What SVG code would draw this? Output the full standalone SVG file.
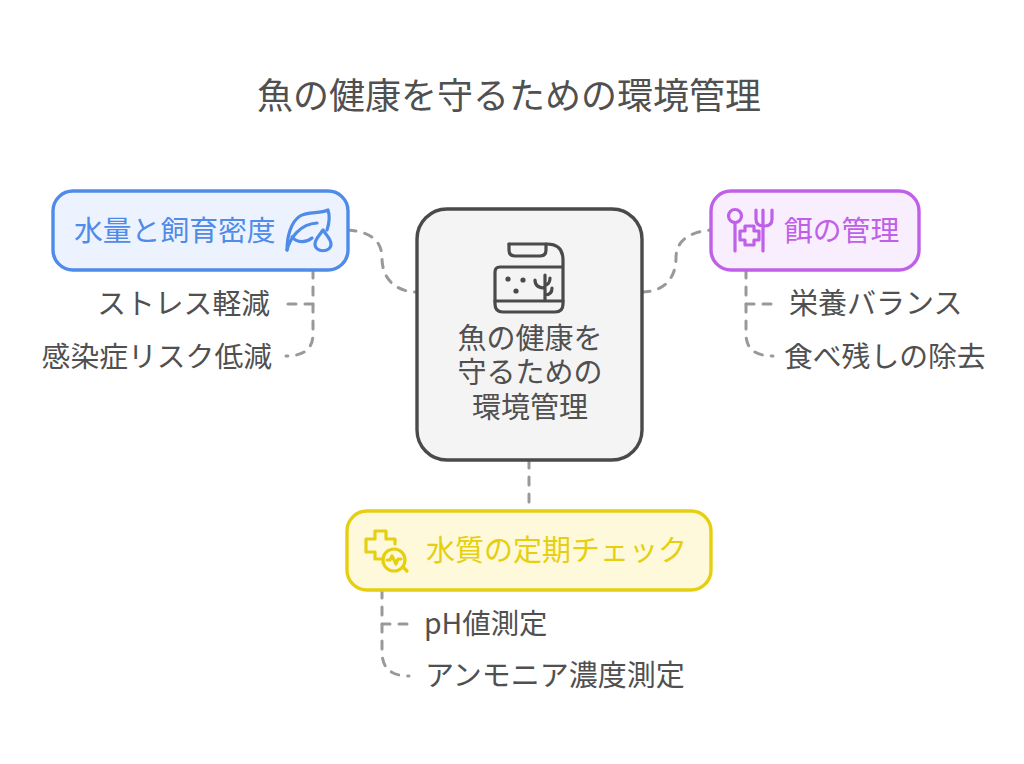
<svg xmlns="http://www.w3.org/2000/svg" width="1024" height="764" viewBox="0 0 1024 764">
<style>
text{font-family:"Noto Sans CJK JP","Liberation Sans",sans-serif;font-size:28.8px;fill:#505050}
.title{font-size:36px}
.w{font-size:29px}
.c{fill:none;stroke:#999;stroke-width:3;stroke-dasharray:8 9;stroke-linecap:round}
.i{fill:none;stroke-width:3.2;stroke-linecap:round;stroke-linejoin:round}
.blue{fill:#4f8be8}.purple{fill:#c060e8}.yellow{fill:#e5cf10}
</style>
<rect width="1024" height="764" fill="#fff"/>
<text class="title" x="509" y="109" text-anchor="middle">魚の健康を守るための環境管理</text>
<g id="connectors">
<path class="c" d="M348 230C370 232 382 240 382 258C382 278 395 292 417 292"/>
<path class="c" d="M642 292C664 292 676 278 676 258C676 240 690 232 711 230"/>
<path class="c" d="M529 460V511"/>
<path class="c" d="M313 270V334Q313 356 286 356"/>
<path class="c" d="M288 304H313"/>
<path class="c" d="M746 270V334Q746 356 773 356"/>
<path class="c" d="M771 304H746"/>
<path class="c" d="M382 590V652Q382 676 409 676"/>
<path class="c" d="M407 624H382"/>
</g>
<g id="center">
<rect x="417" y="209" width="225" height="251" rx="30" fill="#f4f4f4" stroke="#4a4a4a" stroke-width="3.4"/>
<g class="i" stroke="#4a4a4a">
<path d="M509 244H547Q563 244 563 260V304Q563 312 555 312H503Q495 312 495 304V272Q495 267 500 267H563"/>
<path d="M509 244V250Q509 256 515 256H540Q546 256 546 250V244"/>
<path d="M495 301H563"/>
<path d="M545 300V275M545 288C539 288 535 286 535 280M545 295C550 295 552 292 552 288M545 285C548 285 550 282 550 278"/>
</g>
<circle cx="508" cy="279" r="2.6" fill="#4a4a4a"/><circle cx="523" cy="280" r="2.6" fill="#4a4a4a"/><circle cx="516" cy="291" r="2.6" fill="#4a4a4a"/>
<text class="w" text-anchor="middle"><tspan x="530" y="349">魚の健康を</tspan><tspan x="530" y="383">守るための</tspan><tspan x="530" y="418">環境管理</tspan></text>
</g>
<g id="node-water">
<rect x="53" y="191" width="295" height="79" rx="20" fill="#edf3fe" stroke="#4f8be8" stroke-width="3.4"/>
<text class="blue" x="74" y="241">水量と飼育密度</text>
<g class="i" stroke="#4f8be8">
<path d="M287 250C287 236 291 222 300 216C308 211 320 214 328 210C330 216 329 224 327 230"/>
<path d="M287 250C290 238 300 224 317 223"/>
<path d="M292 237C297 243 306 243 312 238"/>
<path d="M323 230C319 236 315 239 315 244C315 253 331 253 331 244C331 239 327 236 323 230Z"/>
</g>
</g>
<g id="node-feed">
<rect x="711" y="191" width="208" height="79" rx="20" fill="#f9eefe" stroke="#c060e8" stroke-width="3.4"/>
<text class="purple" x="784" y="241">餌の管理</text>
<g class="i" stroke="#c060e8">
<circle cx="735" cy="216" r="6.5"/>
<path d="M735 223V251M756 210V219Q756 226 763 226H765Q772 226 772 219V210M763 210V251"/>
<path d="M745 226H754V231H759V240H754V245H745V240H740V231H745Z"/>
</g>
</g>
<g id="node-quality">
<rect x="347" y="511" width="364" height="79" rx="20" fill="#fef9da" stroke="#e5cf10" stroke-width="3.4"/>
<text class="yellow w" x="426" y="561">水質の定期チェック</text>
<g class="i" stroke="#e5cf10">
<path d="M375 539V531H386V539H395V544M375 539H366V552H375V559H382"/>
<circle cx="394" cy="560" r="11"/>
<path d="M403 567L407 571M387 560H390L392 556L396 564L398 559H401"/>
</g>
</g>
<g id="labels">
<text x="270" y="314" text-anchor="end">ストレス軽減</text>
<text x="272" y="367" text-anchor="end">感染症リスク低減</text>
<text x="789" y="314" class="w">栄養バランス</text>
<text x="784" y="367">食べ残しの除去</text>
<text x="424" y="634" style="font-size:28.4px">pH値測定</text>
<text x="425" y="686" class="w">アンモニア濃度測定</text>
</g>
</svg>
